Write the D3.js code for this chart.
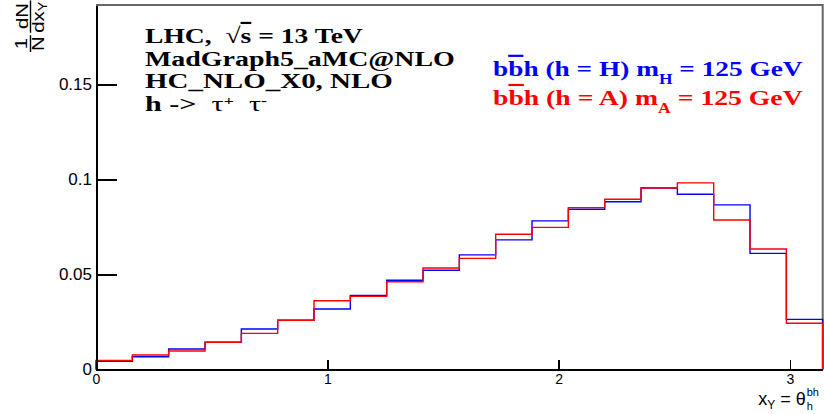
<!DOCTYPE html>
<meta charset="utf-8">
<style>
body { margin: 0; background: #fff; }
svg { display: block; }
.axis path, .axis line { fill: none; stroke: #000; shape-rendering: crispEdges; }
.axis text { font-family: "Liberation Sans", Arial, sans-serif; fill: #000; }
.tnr { font-family: "Liberation Serif", "Times New Roman", serif; font-weight: bold; white-space: pre; }
.hel { font-family: "Liberation Sans", Arial, sans-serif; white-space: pre; }
</style>
<svg width="824" height="414"></svg>
<script src="https://d3js.org/d3.v7.min.js"></script>
<script>

// 20 bins over [0, pi]
var nBins = 20;
var xMax = Math.PI;

// normalised distributions
var valuesH = [0.0043, 0.0067, 0.0108, 0.0143, 0.0213, 0.0259, 0.0318, 0.0390, 0.0470, 0.0522,
               0.0603, 0.0682, 0.0782, 0.0843, 0.0883, 0.0955, 0.0922, 0.0866, 0.0611, 0.0264];
var valuesA = [0.0048, 0.0076, 0.0097, 0.0143, 0.0190, 0.0259, 0.0362, 0.0385, 0.0462, 0.0534,
               0.0585, 0.0712, 0.0748, 0.0852, 0.0896, 0.0955, 0.0982, 0.0787, 0.0634, 0.0243];

var xTicks = [0, 1, 2, 3];
var yTicks = [0, 0.05, 0.1, 0.15];
var yTickLabels = ["0", "0.05", "0.1", "0.15"];
var yMax = 0.1918;

var svg = d3.select("svg"),
    margin = {top: 5, right: 1.3, bottom: 44.5, left: 96},
    W = +svg.attr("width"), H = +svg.attr("height");

var x = d3.scaleLinear().domain([0, xMax]).range([margin.left, W - margin.right]);
var y = d3.scaleLinear().domain([0, yMax]).range([H - margin.bottom, margin.top]);

var edges = d3.range(nBins + 1).map(function(i) { return i * xMax / nBins; });

// frame (top/right in grey)
svg.append("path")
    .attr("d", "M" + x(0) + "," + y(yMax) + "H" + x(xMax) + "V" + y(0))
    .attr("fill", "none").attr("stroke", "#666").attr("stroke-width", 2);

function stepPath(vals) {
  var p = d3.path();
  p.moveTo(x(edges[0]), y(0));
  vals.forEach(function(v, i) {
    p.lineTo(x(edges[i]), y(v));
    p.lineTo(x(edges[i + 1]), y(v));
  });
  p.lineTo(x(edges[nBins]), y(0));
  return p.toString();
}

svg.append("path").attr("d", stepPath(valuesH))
    .attr("fill", "none").attr("stroke", "#0000ff").attr("stroke-width", 1.4);
svg.append("path").attr("d", stepPath(valuesA))
    .attr("fill", "none").attr("stroke", "#ff0000").attr("stroke-width", 1.4);

// axes
var xAxis = d3.axisBottom(x).tickValues(xTicks).tickSize(-10).tickSizeOuter(0).tickPadding(5)
    .tickFormat(d3.format("d"));
var gx = svg.append("g").attr("class", "axis")
    .attr("transform", "translate(0," + y(0) + ")").call(xAxis);
gx.selectAll("text").style("font-size", "14px");
gx.select(".domain").attr("stroke-width", 2);
gx.selectAll(".tick line").attr("stroke-width", 1.5);

var yAxis = d3.axisLeft(y).tickValues(yTicks).tickSize(-21).tickSizeOuter(0).tickPadding(4)
    .tickFormat(function(d, i) { return yTickLabels[i]; });
var gy = svg.append("g").attr("class", "axis")
    .attr("transform", "translate(" + x(0) + ",0)").call(yAxis);
gy.selectAll("text").style("font-size", "17px");
gy.select(".domain").attr("stroke-width", 2);
gy.selectAll(".tick line").attr("stroke-width", 1.5);

// fit a text element to a target width, left edge at x0
function fit(t, x0, base, w) {
  var bw = t.node().getBBox().width;
  t.attr("transform", "translate(" + x0 + "," + base + ") scale(" + (w / bw) + ",1)");
}

// info text block
var info = [
  {base: 43, w: 218, parts: [["LHC,  √", 0], ["s", "over"], [" = 13 TeV", 0]]},
  {base: 66, w: 310, parts: [["MadGraph5_aMC@NLO", 0]]},
  {base: 88, w: 248, parts: [["HC_NLO_X0, NLO", 0]]},
  {base: 111, w: 122, parts: [["h ->  ", 0], ["τ", "greek"], ["+", "sup"], ["  ", 0], ["τ", "greek"], ["-", "sup"]]}
];

function addParts(t, parts) {
  var shift = 0;
  parts.forEach(function(p) {
    var s = t.append("tspan").text(p[0]);
    var want = 0;
    if (p[1] === "sup") { want = -6; s.style("font-size", "13px"); }
    else if (p[1] === "sub") { want = 8; s.style("font-size", "14px"); }
    else if (p[1] === "over") s.style("text-decoration", "overline");
    else if (p[1] === "greek") s.style("font-weight", "normal");
    if (want !== shift) s.attr("dy", want - shift);
    shift = want;
  });
}

info.forEach(function(l) {
  var t = svg.append("text").attr("class", "tnr").style("font-size", "22px").attr("fill", "#000");
  addParts(t, l.parts);
  fit(t, 145, l.base, l.w);
});

// legend
var legend = [
  {base: 76, color: "#0000ff", w: 310, parts: [["b", 0], ["b", "over"], ["h (h = H) m", 0], ["H", "sub"], [" = 125 GeV", 0]]},
  {base: 105, color: "#ff0000", w: 310, parts: [["b", 0], ["b", "over"], ["h (h = A) m", 0], ["A", "sub"], [" = 125 GeV", 0]]}
];
legend.forEach(function(l) {
  var t = svg.append("text").attr("class", "tnr").style("font-size", "22px").attr("fill", l.color);
  addParts(t, l.parts);
  fit(t, 493, l.base, l.w);
});

// x title:  x_Y = theta_h^bh
var xt = svg.append("g");
var xt1 = xt.append("text").attr("class", "hel").style("font-size", "18px");
xt1.append("tspan").text("x");
xt1.append("tspan").text("Y").attr("dy", 4).style("font-size", "12px");
xt1.append("tspan").text(" = θ").attr("dy", -4);
var w1 = xt1.node().getComputedTextLength();
xt.append("text").attr("class", "hel").style("font-size", "11px")
    .attr("x", w1 + 1).attr("y", -9).text("bh");
xt.append("text").attr("class", "hel").style("font-size", "11px")
    .attr("x", w1 + 1).attr("y", 5).text("h");
var xtw = xt.node().getBBox().width;
xt.attr("transform", "translate(" + (819 - xtw) + ",405)");

// y title: 1/N dN/dx_Y (rotated)
var yt = svg.append("g").attr("class", "hel")
    .attr("transform", "translate(31,52) rotate(-90) scale(1.2,1)")
    .style("font-size", "17px");
yt.append("text").attr("x", 7).attr("y", -4).attr("text-anchor", "middle").text("1");
yt.append("text").attr("x", 7).attr("y", 13).attr("text-anchor", "middle").text("N");
yt.append("line").attr("x1", 0).attr("x2", 14).attr("y1", -0.5).attr("y2", -0.5)
    .attr("stroke", "#000").attr("stroke-width", 1.4);
yt.append("text").attr("x", 30).attr("y", -3).attr("text-anchor", "middle").text("dN");
var dx = yt.append("text").attr("x", 16).attr("y", 13);
dx.append("tspan").text("dx");
dx.append("tspan").text("Y").attr("dy", 3).style("font-size", "12px");
yt.append("line").attr("x1", 16).attr("x2", 43).attr("y1", -0.5).attr("y2", -0.5)
    .attr("stroke", "#000").attr("stroke-width", 1.4);

</script>
